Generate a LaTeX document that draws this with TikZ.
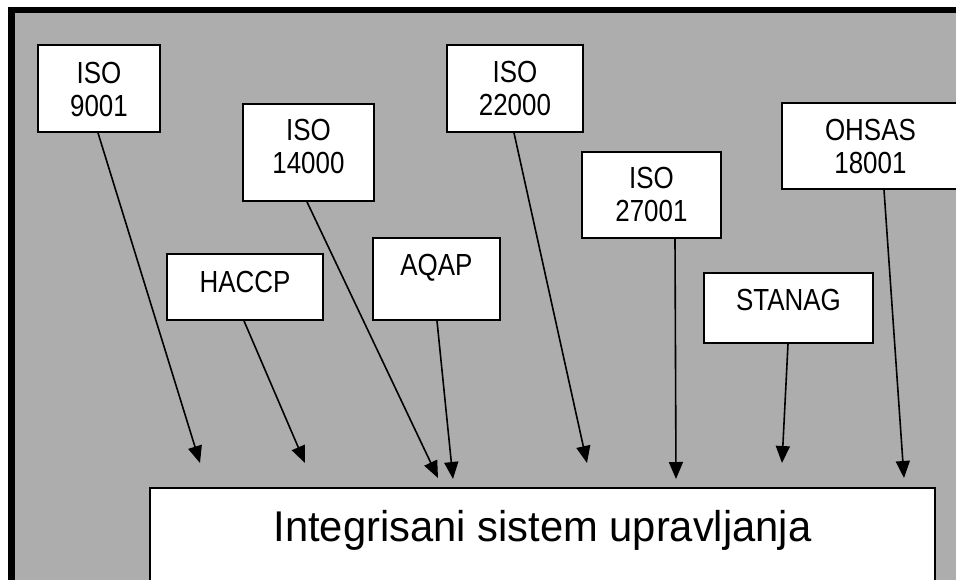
\documentclass[tikz,border=0pt]{standalone}
\usepackage{fontspec}
\newfontfamily\lblfont[FakeStretch=0.85]{Liberation Sans}
\newfontfamily\bigfont[FakeStretch=0.97]{Liberation Sans}
\usetikzlibrary{arrows.meta,calc}
\definecolor{bggray}{RGB}{173,173,173}
\newcommand{\twolines}[2]{\begin{tabular}[t]{@{}c@{}}#1\\#2\end{tabular}}
\begin{document}
\begin{tikzpicture}[x=1pt,y=-1pt,
  box/.style={draw=black, fill=white, line width=1.9pt, inner sep=0pt, anchor=north west,
              font=\lblfont\fontsize{30.5}{33}\selectfont},
  arr/.style={line width=1.6pt, -{Triangle[length=17pt,width=14pt]}}]
\clip (0,0) rectangle (956,579);
\fill[white] (0,0) rectangle (956,579);
\draw[line width=6.5pt, fill=bggray] (11.5,10) rectangle (1000,640);

\node[box, minimum width=122pt, text height=39pt, text depth=48pt] (i9001) at (37,44) {\twolines{ISO}{9001}};
\node[box, minimum width=131pt, text height=37pt, text depth=60pt] (i14000) at (242,103) {\twolines{ISO}{14000}};
\node[box, minimum width=156pt, text height=39pt, text depth=27pt] (haccp) at (166,253) {HACCP};
\node[box, minimum width=127pt, text height=38pt, text depth=44pt] (aqap) at (372,237) {AQAP};
\node[box, minimum width=136pt, text height=38pt, text depth=49pt] (i22000) at (446,44) {\twolines{ISO}{22000}};
\node[box, minimum width=139pt, text height=37pt, text depth=49pt] (i27001) at (581,151) {\twolines{ISO}{27001}};
\node[box, minimum width=169pt, text height=38pt, text depth=32pt] (stanag) at (703,272) {STANAG};
\node[box, minimum width=177pt, text height=38pt, text depth=48pt] (ohsas) at (781,102) {\twolines{OHSAS}{18001}};
\node[box, line width=2pt, font=\bigfont\fontsize{43}{50}\selectfont, minimum width=785pt,
      text height=53pt, text depth=90pt] (main) at (149,487) {Integrisani sistem upravljanja};

\coordinate (t1) at (200,463);
\coordinate (t2) at (305,463);
\coordinate (t3) at (438,478);
\coordinate (t4) at (453,479);
\coordinate (t5) at (587,463);
\coordinate (t6) at (676,479);
\coordinate (t7) at (782,463);
\coordinate (t8) at (904,478);

\draw[arr] ($(i9001.south west)+(61,0)$) -- (t1);
\draw[arr] ($(haccp.south west)+(78,0)$) -- (t2);
\draw[arr] ($(i14000.south west)+(65,0)$) -- (t3);
\draw[arr] ($(aqap.south west)+(65,0)$) -- (t4);
\draw[arr] ($(i22000.south west)+(68,0)$) -- (t5);
\draw[arr] ($(i27001.south west)+(94,0)$) -- (t6);
\draw[arr] ($(stanag.south west)+(85,0)$) -- (t7);
\draw[arr] ($(ohsas.south west)+(103,0)$) -- (t8);
\end{tikzpicture}
\end{document}
